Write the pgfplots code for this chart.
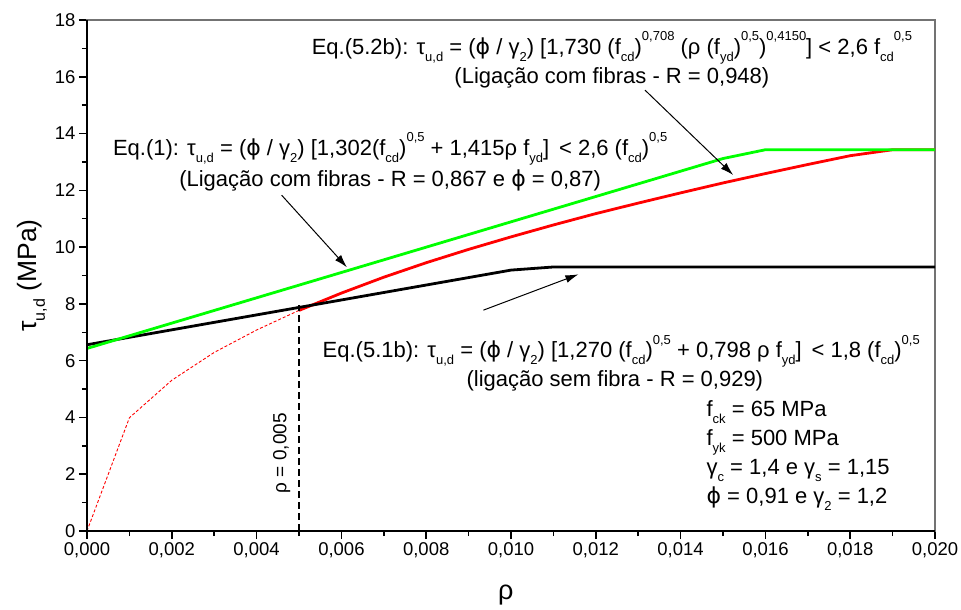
\documentclass[border=0pt]{standalone}
\usepackage{fontspec}
\setmainfont{Liberation Sans}
\newfontfamily\djv{DejaVu Sans}
\usepackage{pgfplots}
\pgfplotsset{compat=1.18}
\usetikzlibrary{arrows.meta}
\newcommand{\sub}[1]{\raisebox{-0.32em}{\fontsize{13}{13}\selectfont #1}}
\newcommand{\sups}[1]{\raisebox{0.62em}{\fontsize{13}{13}\selectfont #1}}
\newcommand{\vphi}{{\djv ϕ}}
\newcommand{\fs}{\fontsize{22}{25}\selectfont}
\newcommand{\ft}{\fontsize{18.5}{21}\selectfont}
\begin{document}
\begin{tikzpicture}
\begin{axis}[
  scale only axis, width=848pt, height=511pt,
  xmin=0, xmax=0.02, ymin=0, ymax=18,
  xtick={0,0.002,0.004,0.006,0.008,0.010,0.012,0.014,0.016,0.018,0.020},
  ytick={0,2,4,6,8,10,12,14,16,18},
  minor x tick num=1, minor y tick num=1,
  scaled x ticks=false,
  xticklabel style={/pgf/number format/.cd, fixed, fixed zerofill, precision=3, use comma, assume math mode=true},
  yticklabel style={/pgf/number format/assume math mode=true},
  tick label style={font=\ft},
  tick align=outside, xtick pos=left, ytick pos=left,
  major tick length=8pt, minor tick length=5pt,
  tick style={black, line width=1.5pt},
  axis line style={draw=black!55, line width=1.2pt},
  clip=false,
]
\addplot[red, line width=0.9pt, dash pattern=on 3pt off 2pt] coordinates {
 (0,0) (0.001,3.99) (0.002,5.31) (0.003,6.29) (0.004,7.08) (0.005,7.77)};
\addplot[red, line width=2.8pt] coordinates {
 (0.005,7.77) (0.006,8.38) (0.007,8.94) (0.008,9.45) (0.009,9.92) (0.010,10.36)
 (0.011,10.78) (0.012,11.18) (0.013,11.55) (0.014,11.91) (0.015,12.26)
 (0.016,12.59) (0.017,12.91) (0.018,13.22) (0.019,13.43) (0.020,13.43)};
\addplot[black, line width=2.8pt] coordinates {
 (0,6.56) (0.010,9.19) (0.011,9.30) (0.020,9.30)};
\addplot[green, line width=2.8pt] coordinates {
 (0,6.43) (0.015,13.12) (0.016,13.43) (0.020,13.43)};
\addplot[black, line width=1.3pt, dash pattern=on 7pt off 4pt] coordinates {
 (0.005,0) (0.005,7.95)};

\draw[black, line width=2.2pt] (rel axis cs:0,1) -- (rel axis cs:0,0) -- (rel axis cs:1,0);

\draw[-{Latex[length=13pt,width=8pt]}, line width=1pt] (axis cs:0.01316,15.53) -- (axis cs:0.01524,12.54);
\draw[-{Latex[length=13pt,width=8pt]}, line width=1pt] (axis cs:0.00459,11.83) -- (axis cs:0.00613,9.29);
\draw[-{Latex[length=13pt,width=8pt]}, line width=1pt] (axis cs:0.00935,7.78) -- (axis cs:0.01159,9.04);

\node[anchor=base, font=\fs] at (axis cs:0.01238,16.80) {Eq.(5.2b): τ\sub{u,d} = (\vphi{} / γ\sub{2}) [1,730 (f\sub{cd})\sups{0,708} (ρ (f\sub{yd})\sups{0,5})\sups{0,4150}] < 2,6 f\sub{cd}\sups{0,5}};
\node[anchor=base, font=\fs] at (axis cs:0.01238,15.78) {(Ligação com fibras - R = 0,948)};
\node[anchor=base, font=\fs] at (axis cs:0.00715,13.24) {Eq.(1): τ\sub{u,d} = (\vphi{} / γ\sub{2}) [1,302(f\sub{cd})\sups{0,5} + 1,415ρ f\sub{yd}]\, < 2,6 (f\sub{cd})\sups{0,5}};
\node[anchor=base, font=\fs] at (axis cs:0.00715,12.14) {(Ligação com fibras - R = 0,867 e \vphi{} = 0,87)};
\node[anchor=base, font=\fs] at (axis cs:0.01260,6.10) {Eq.(5.1b): τ\sub{u,d} = (\vphi{} / γ\sub{2}) [1,270 (f\sub{cd})\sups{0,5} + 0,798 ρ f\sub{yd}]\, < 1,8 (f\sub{cd})\sups{0,5}};
\node[anchor=base, font=\fs] at (axis cs:0.01245,5.08) {(ligação sem fibra - R = 0,929)};

\node[anchor=base west, font=\fs] at (axis cs:0.01453,4.02) {f\sub{ck} = 65 MPa};
\node[anchor=base west, font=\fs] at (axis cs:0.01453,3.00) {f\sub{yk} = 500 MPa};
\node[anchor=base west, font=\fs] at (axis cs:0.01453,2.00) {γ\sub{c} = 1,4 e γ\sub{s} = 1,15};
\node[anchor=base west, font=\fs] at (axis cs:0.01453,0.98) {\vphi{} = 0,91 e γ\sub{2} = 1,2};

\node[rotate=90, font=\fontsize{19}{22}\selectfont] at (axis cs:0.00459,2.74) {ρ = 0,005};

\node[rotate=90, font=\fontsize{26.5}{30}\selectfont] at ([xshift=-55pt]rel axis cs:0,0.5) {τ\raisebox{-0.32em}{\fontsize{16}{16}\selectfont u,d} (MPa)};
\node[font=\fontsize{27}{30}\selectfont] at ([yshift=-64pt]axis cs:0.00988,0) {ρ};
\end{axis}
\pgfresetboundingbox
\path[use as bounding box] ([shift={(-87pt,-79pt)}]current axis.south west) rectangle ([shift={(26pt,20pt)}]current axis.north east);
\end{tikzpicture}
\end{document}
